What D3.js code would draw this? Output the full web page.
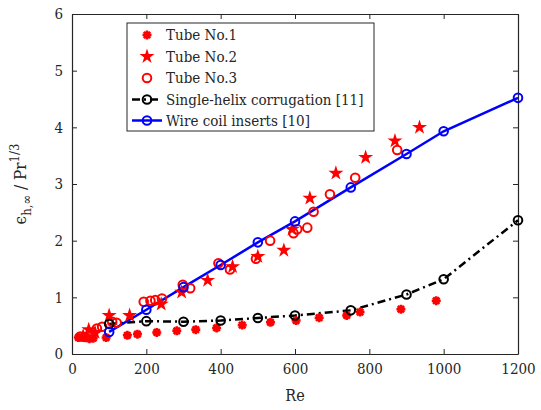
<!DOCTYPE html>
<html>
<head>
<meta charset="utf-8">
<script src="https://cdn.jsdelivr.net/npm/d3@7"></script>
<style>
  body { margin: 0; background: #fff; }
</style>
</head>
<body>
<div id="chart"></div>
<script>
// data
var tube1Re = [17, 30, 47, 57, 92, 149, 176, 228, 282, 333, 389, 458, 534, 603, 665, 739, 775, 885, 980];
var tube1Y  = [0.29, 0.29, 0.27, 0.28, 0.29, 0.33, 0.35, 0.38, 0.41, 0.43, 0.46, 0.51, 0.56, 0.59, 0.64, 0.68, 0.74, 0.79, 0.94];

var tube2Re = [30, 45, 62, 100, 155, 240, 295, 365, 432, 500, 570, 592, 640, 710, 790, 869, 935];
var tube2Y  = [0.32, 0.43, 0.38, 0.68, 0.68, 0.88, 1.09, 1.3, 1.54, 1.72, 1.83, 2.2, 2.75, 3.19, 3.47, 3.76, 4.0];

var tube3Re = [22, 35, 50, 67, 81, 108, 120, 193, 211, 224, 242, 298, 318, 394, 425, 495, 533, 596, 606, 633, 650, 694, 762, 875];
var tube3Y  = [0.31, 0.30, 0.33, 0.45, 0.48, 0.57, 0.55, 0.92, 0.94, 0.95, 0.98, 1.22, 1.16, 1.6, 1.49, 1.68, 2.0, 2.13, 2.2, 2.23, 2.51, 2.82, 3.11, 3.6];

var helixRe = [100, 200, 300, 400, 500, 600, 750, 900, 1000, 1200];
var helixY  = [0.53, 0.58, 0.57, 0.59, 0.635, 0.68, 0.77, 1.05, 1.32, 2.36];

var coilRe = [100, 200, 300, 400, 500, 600, 750, 900, 1000, 1200];
var coilY  = [0.39, 0.78, 1.18, 1.57, 1.97, 2.34, 2.94, 3.53, 3.93, 4.52];

var xTicks = [0, 200, 400, 600, 800, 1000, 1200];
var yTicks = [0, 1, 2, 3, 4, 5, 6];

var legendNames = ["Tube No.1", "Tube No.2", "Tube No.3", "Single-helix corrugation [11]", "Wire coil inserts [10]"];

// set the dimensions and margins of the graph
var margin = {top: 14, right: 23, bottom: 56, left: 72},
    width = 541 - margin.left - margin.right,
    height = 410 - margin.top - margin.bottom;

var axisColor = "#262626";
var serif = "'DejaVu Serif Condensed', 'DejaVu Serif'";

var svg = d3.select("#chart")
  .append("svg")
    .attr("width", 541)
    .attr("height", 410)
  .append("g")
    .attr("transform", "translate(" + margin.left + "," + margin.top + ")");

var x = d3.scaleLinear().domain([0, 1200]).range([0, width]);
var y = d3.scaleLinear().domain([0, 6]).range([height, 0]);

// axes (inward ticks, box on)
function styleAxis(g) {
  g.attr("font-family", null);
  g.select(".domain").attr("stroke", axisColor).attr("stroke-width", 1.2);
  g.selectAll(".tick line").attr("stroke", axisColor);
  g.selectAll(".tick text")
    .attr("fill", axisColor)
    .style("font-size", "15px")
    .style("font-family", serif);
}

svg.append("g")
  .attr("transform", "translate(0," + height + ")")
  .call(d3.axisBottom(x).tickValues(xTicks).tickFormat(d3.format("d")).tickSizeInner(-5).tickSizeOuter(0).tickPadding(9))
  .call(styleAxis);
svg.append("g")
  .call(d3.axisTop(x).tickValues(xTicks).tickSizeInner(-5).tickSizeOuter(0).tickFormat(""))
  .call(styleAxis);
svg.append("g")
  .call(d3.axisLeft(y).tickValues(yTicks).tickFormat(d3.format("d")).tickSizeInner(-5).tickSizeOuter(0).tickPadding(9))
  .call(styleAxis);
svg.append("g")
  .attr("transform", "translate(" + width + ",0)")
  .call(d3.axisRight(y).tickValues(yTicks).tickSizeInner(-5).tickSizeOuter(0).tickFormat(""))
  .call(styleAxis);

// axis labels
svg.append("text")
  .attr("x", width / 2)
  .attr("y", height + 47)
  .attr("text-anchor", "middle")
  .attr("fill", axisColor)
  .style("font-family", serif)
  .style("font-size", "16px")
  .text("Re");

var ylab = svg.append("text")
  .attr("transform", "translate(" + (-46) + "," + (height / 2) + ") rotate(-90)")
  .attr("text-anchor", "middle")
  .attr("fill", axisColor)
  .style("font-family", serif)
  .style("font-size", "17px");
ylab.append("tspan").text("\u03F5");
ylab.append("tspan").attr("dy", 5).style("font-size", "13px").text("h,\u221E");
ylab.append("tspan").attr("dy", -5).text(" / Pr");
ylab.append("tspan").attr("dy", -7).style("font-size", "13px").text("1/3");

// markers
var red = "#ff0000";
function blob(g) {
  g.append("circle").attr("r", 3.2).attr("fill", red);
  g.append("path")
    .attr("d", "M-4.5,0L4.5,0M0,-4.5L0,4.5M-3.2,-3.2L3.2,3.2M-3.2,3.2L3.2,-3.2")
    .attr("stroke", red).attr("stroke-width", 2.6);
}
var starPath = d3.symbol().type(d3.symbolStar).size(70)();

// lines
var line = d3.line().x(function(d) { return x(d[0]); }).y(function(d) { return y(d[1]); });
var helix = d3.zip(helixRe, helixY);
var coil = d3.zip(coilRe, coilY);

svg.append("path")
  .datum(helix)
  .attr("d", line)
  .attr("fill", "none")
  .attr("stroke", "#000")
  .attr("stroke-width", 2.5)
  .attr("stroke-dasharray", "8,4,2,4");

svg.append("path")
  .datum(coil)
  .attr("d", line)
  .attr("fill", "none")
  .attr("stroke", "#0000ff")
  .attr("stroke-width", 2.5);

// tube 1
svg.append("g").selectAll("g")
  .data(d3.zip(tube1Re, tube1Y))
  .enter().append("g")
    .attr("transform", function(d) { return "translate(" + x(d[0]) + "," + y(d[1]) + ")"; })
    .each(function() { blob(d3.select(this)); });

// tube 2
svg.append("g").selectAll("path")
  .data(d3.zip(tube2Re, tube2Y))
  .enter().append("path")
    .attr("d", starPath)
    .attr("transform", function(d) { return "translate(" + x(d[0]) + "," + y(d[1]) + ")"; })
    .attr("fill", red);

// tube 3
svg.append("g").selectAll("circle")
  .data(d3.zip(tube3Re, tube3Y))
  .enter().append("circle")
    .attr("cx", function(d) { return x(d[0]); })
    .attr("cy", function(d) { return y(d[1]); })
    .attr("r", 4.3)
    .attr("fill", "none")
    .attr("stroke", red)
    .attr("stroke-width", 2);

// markers on reference lines
svg.append("g").selectAll("circle")
  .data(helix)
  .enter().append("circle")
    .attr("cx", function(d) { return x(d[0]); })
    .attr("cy", function(d) { return y(d[1]); })
    .attr("r", 4.3)
    .attr("fill", "none")
    .attr("stroke", "#000")
    .attr("stroke-width", 2);

svg.append("g").selectAll("circle")
  .data(coil)
  .enter().append("circle")
    .attr("cx", function(d) { return x(d[0]); })
    .attr("cy", function(d) { return y(d[1]); })
    .attr("r", 4.3)
    .attr("fill", "none")
    .attr("stroke", "#0000ff")
    .attr("stroke-width", 2);

// legend
var lg = svg.append("g").attr("transform", "translate(55,9)");
lg.append("rect")
  .attr("width", 247)
  .attr("height", 108)
  .attr("fill", "#fff")
  .attr("stroke", axisColor)
  .attr("stroke-width", 1);

var rowY = [12, 33.5, 55, 76.5, 97.5];
legendNames.forEach(function(name, i) {
  var row = lg.append("g").attr("transform", "translate(0," + rowY[i] + ")");
  if (i === 0) {
    var b = row.append("g").attr("transform", "translate(20,0)");
    blob(b);
  } else if (i === 1) {
    row.append("path").attr("d", starPath).attr("transform", "translate(20,0)").attr("fill", red);
  } else if (i === 2) {
    row.append("circle").attr("cx", 20).attr("cy", 0).attr("r", 4.3)
      .attr("fill", "none").attr("stroke", red).attr("stroke-width", 2);
  } else {
    var c = i === 3 ? "#000" : "#0000ff";
    row.append("line").attr("x1", 5).attr("x2", 35).attr("y1", 0).attr("y2", 0)
      .attr("stroke", c).attr("stroke-width", 2.5)
      .attr("stroke-dasharray", i === 3 ? "8,4,2,4" : null);
    row.append("circle").attr("cx", 20).attr("cy", 0).attr("r", 4.3)
      .attr("fill", "none").attr("stroke", c).attr("stroke-width", 2);
  }
  row.append("text")
    .attr("x", 39)
    .attr("y", 5)
    .attr("fill", axisColor)
    .style("font-family", serif)
    .style("font-size", "15px")
    .text(name);
});
</script>
</body>
</html>
